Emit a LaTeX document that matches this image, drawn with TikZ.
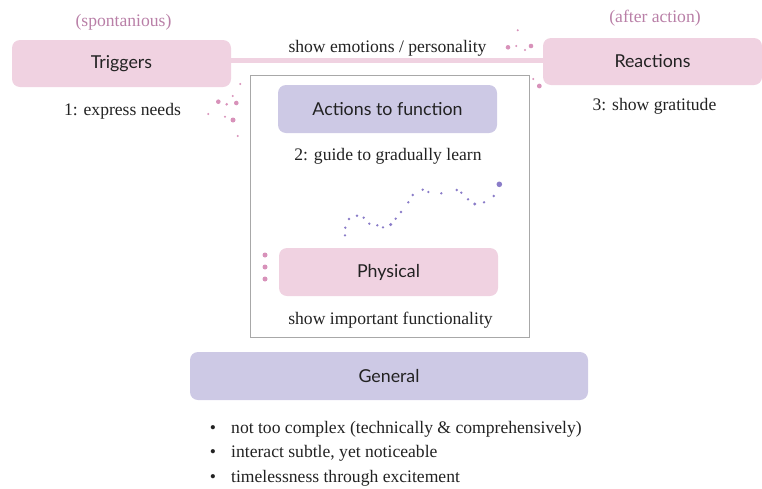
\documentclass[tikz,border=0pt]{standalone}
\usepackage{fontspec}
\setmainfont{Liberation Serif}
\newfontfamily\boxfont{Lato}
\definecolor{pinkfill}{HTML}{F0D2E1}
\definecolor{lavfill}{HTML}{CDC9E5}
\definecolor{pinktext}{HTML}{B97FA7}
\definecolor{pinkdot}{HTML}{D892BA}
\definecolor{purpdot}{HTML}{8A7CC8}
\definecolor{framegray}{HTML}{A8A8A8}
\definecolor{darktext}{HTML}{222222}
\tikzset{
  boxbase/.style={rounded corners=8pt, minimum height=48pt, text=darktext,
    font=\boxfont\fontsize{17.8}{21}\selectfont, inner sep=0pt},
  pinkbox/.style={boxbase, fill=pinkfill},
  lavbox/.style={boxbase, fill=lavfill},
  lbl/.style={font=\fontsize{17.6}{20}\selectfont, text=darktext, inner sep=0pt, anchor=base},
  plbl/.style={font=\fontsize{17.6}{20}\selectfont, text=pinktext, inner sep=0pt, anchor=base},
  conn/.style={line width=5pt, draw=pinkfill},
}
\begin{document}
\begin{tikzpicture}[x=1pt,y=-1pt]
\useasboundingbox (0,0) rectangle (762,488);
% frame
\node[draw=framegray, line width=0.8pt, minimum width=279pt, minimum height=262pt, inner sep=0pt] (frame) at (389.5,206) {};
% boxes
\node[pinkbox, minimum width=219pt, minimum height=47pt] (trig) at (121.5,63.5) {Triggers};
\node[pinkbox, minimum width=219pt, minimum height=47pt] (react) at (652.5,61.5) {Reactions};
\draw[conn] ([yshift=3pt]trig.east) -- ([yshift=1pt]react.west);
\node[lavbox, minimum width=219pt] (act) at (387.5,109) {Actions to function};
\node[pinkbox, minimum width=219pt] (phys) at (388.5,272) {Physical};
\node[lavbox, minimum width=398pt] (gen) at (389,376) {General};
% labels
\node[plbl] (spon) at (123.5,26) {(spontanious)};
\node[plbl] (after) at (655,22) {(after action)};
\node[lbl] (needs) at (122.5,115) {1: express needs};
\node[lbl] (emo) at (387.5,52) {show emotions / personality};
\node[lbl] (grat) at (654.5,110) {3: show gratitude};
\node[lbl] (guide) at (388,160) {2: guide to gradually learn};
\node[lbl] (func) at (390.5,324) {show important functionality};
% bullets
\node[lbl] (b1) at (213,433) {\textbullet};
\node[lbl, anchor=base west] (t1) at (231,433) {not too complex (technically \& comprehensively)};
\node[lbl] (b2) at (213,457) {\textbullet};
\node[lbl, anchor=base west] (t2) at (231,457) {interact subtle, yet noticeable};
\node[lbl] (b3) at (213,482) {\textbullet};
\node[lbl, anchor=base west] (t3) at (231,482) {timelessness through excitement};
% pink dots near triggers
\fill[pinkdot] (240.3,84) circle (1.1) (232.7,96) circle (1.1) (218.3,101.7) circle (2.3)
  (226.7,104.3) circle (1.4) (236.3,103) circle (2.3) (208.3,114) circle (1.1)
  (225,116.7) circle (1.2) (233,120) circle (2.5) (237.7,136) circle (1.1);
% pink dots near reactions
\fill[pinkdot] (517.7,30.3) circle (1.1) (508,47.3) circle (2.3) (516.3,46) circle (1.1)
  (525,50) circle (1.1) (531,46) circle (2.3) (533.3,79) circle (1.1) (539.3,86) circle (2.4);
% pink dots left of physical
\fill[pinkdot] (265,255) circle (2.5) (265,267) circle (2.5) (265,279) circle (2.5);
% purple dotted curve
\fill[purpdot] (345,235.3) circle (1.3) (345.3,227.7) circle (1.3) (349,219) circle (1.3)
  (357,215.7) circle (1.3) (363.7,217.7) circle (1.3) (369.3,223.7) circle (1.3)
  (377.3,225.3) circle (1.3) (383,227.3) circle (1.3) (390.7,224.5) circle (1.7)
  (395.7,218.7) circle (1.3) (401,212) circle (1.3) (408.3,202.3) circle (1.3)
  (412.7,195) circle (1.3) (422.7,189.7) circle (1.3) (428.3,192) circle (1.3)
  (441.3,193.3) circle (1.3) (456.7,190) circle (1.3) (461.3,192.7) circle (1.3)
  (468,199.3) circle (1.3) (474.7,204) circle (1.7) (484,202.3) circle (1.3)
  (493.7,196) circle (1.3) (499.3,184.3) circle (2.8);
\end{tikzpicture}
\end{document}
